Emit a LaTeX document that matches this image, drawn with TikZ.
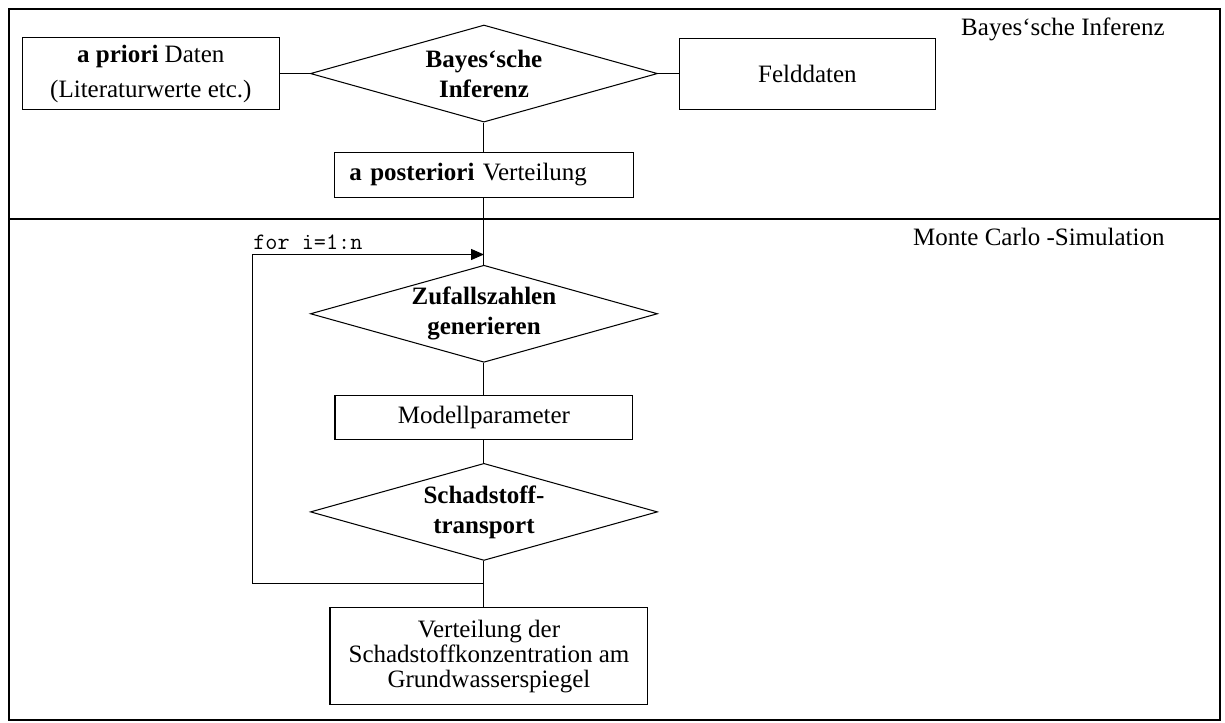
\documentclass[tikz,border=0pt]{standalone}
\usepackage{fontspec}
\setmainfont{Liberation Serif}
\usetikzlibrary{positioning,arrows.meta,shapes.geometric,calc}

\begin{document}
\begin{tikzpicture}[
        font=\fontsize{12}{14.4}\selectfont,
        >={Triangle[length=6.2pt,width=5.3pt]},
        box/.style={
            draw=black,
            line width=0.5pt,
            align=center,
            inner sep=0pt
        },
        raute/.style={
            diamond,
            draw=black,
            line width=0.5pt,
            aspect=3.58,
            align=center,
            font=\fontsize{12}{14.4}\selectfont\bfseries,
            minimum width=166.6pt,
            minimum height=46.6pt,
            inner sep=0pt
        },
        linie/.style={
            line width=0.5pt
        },
        pfeil/.style={
            ->,
            line width=0.5pt
        },
        rahmen/.style={
            line width=1pt
        },
        bereich/.style={
            anchor=base east,
            inner sep=0pt
        }
    ]

    \useasboundingbox (0,0) rectangle (588pt,-346.6pt);

    % Rahmen und Trennlinie
    \draw[rahmen] (4.3pt,-4.3pt) rectangle (585.6pt,-345.6pt);
    \draw[rahmen] (4.3pt,-105.1pt) -- (585.6pt,-105.1pt);

    % Bayes'sche Inferenz
    \node[raute] (bayes) at (232.3pt,-35.3pt) {Bayes‘sche\\Inferenz};

    \node[
        box,
        minimum width=123.4pt,
        minimum height=34.6pt,
        left=14.4pt of bayes
    ] (apriori) {
        \textbf{a priori} Daten\\[2.4pt]
        (Literaturwerte etc.)
    };

    \node[
        box,
        minimum width=122.9pt,
        minimum height=34.1pt,
        right=10pt of bayes
    ] (felddaten) {Felddaten};

    \node[
        box,
        align=left,
        text width=129.1pt,
        inner xsep=7.2pt,
        minimum height=21.6pt,
        below=13.9pt of bayes
    ] (posteriori) {\textbf{a posteriori} Verteilung};

    \node[bereich] (bayeslabel) at (559.2pt,-16.8pt) {Bayes‘sche Inferenz};

    % Monte Carlo -Simulation
    \node[raute, below=32.2pt of posteriori] (zufall) {Zufallszahlen\\generieren};

    \node[
        box,
        minimum width=143pt,
        minimum height=21.1pt,
        below=15.4pt of zufall
    ] (modell) {Modellparameter};

    \node[raute, below=11pt of modell] (schad) {Schadstoff-\\transport};

    \node[
        box,
        font=\fontsize{12}{12}\selectfont,
        minimum width=152.6pt,
        minimum height=46.6pt,
        below=22.1pt of schad,
        xshift=2.4pt
    ] (ergebnis) {
        Verteilung der\\
        Schadstoffkonzentration am\\
        Grundwasserspiegel
    };

    \node[bereich] (mclabel) at (559.2pt,-117.6pt) {Monte Carlo -Simulation};

    % Schleife
    \coordinate (schleife-oben) at ([yshift=4.9pt]zufall.north);
    \coordinate (schleife-unten) at ([yshift=-11pt]schad.south);
    \coordinate (schleife-links) at (121.4pt,0);

    \node[
        anchor=base west,
        inner sep=0pt,
        font=\fontsize{11.3}{13}\selectfont\ttfamily
    ] (forlabel) at ([yshift=2.4pt]schleife-oben -| schleife-links) {for i=1:n};

    % Verbindungen
    \draw[linie] (apriori) -- (bayes);
    \draw[linie] (bayes) -- (felddaten);
    \draw[linie] (bayes) -- (posteriori);
    \draw[linie] (posteriori) -- (zufall);
    \draw[linie] (zufall) -- (modell);
    \draw[linie] (modell) -- (schad);
    \draw[linie] (schad.south) -- (schad.south |- ergebnis.north);
    \draw[pfeil] (schleife-unten) -- (schleife-unten -| schleife-links)
        -- (schleife-oben -| schleife-links) -- (schleife-oben);

\end{tikzpicture}
\end{document}
